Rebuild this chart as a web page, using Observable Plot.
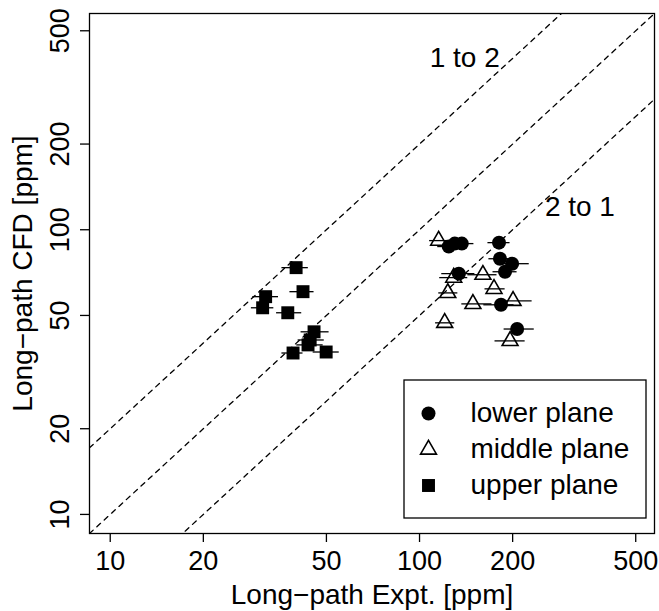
<!DOCTYPE html>
<html>
<head>
<meta charset="utf-8">
<script src="https://cdn.jsdelivr.net/npm/d3@7"></script>
<script src="https://cdn.jsdelivr.net/npm/@observablehq/plot@0.6"></script>
<style>
  html, body { margin: 0; padding: 0; background: white; }
  #chart { width: 659px; height: 611px; }
</style>
</head>
<body>
<div id="chart"></div>
<script>
// ---- data (ppm) ----
const axisDomain = [8.57, 575];
const tickValues = [10, 20, 50, 100, 200, 500];

const lowerX  = [124.3, 130.0, 137.0, 180.7, 182.0, 199.2, 189.0, 134.0, 183.4, 206.8];
const lowerY  = [87.3, 89.4, 89.4, 90.1, 79.1, 76.0, 71.2, 70.1, 54.5, 44.8];
const lowerLo = [114.5, 119.7, 126.2, 166.4, 167.6, 180.8, 172.8, 118.0, 161.4, 187.7];
const lowerHi = [135.0, 142.2, 149.9, 196.2, 197.6, 226.3, 206.7, 151.0, 202.1, 234.9];

const middleX  = [115.3, 129.0, 160.3, 123.4, 174.1, 148.8, 200.6, 120.6, 196.2];
const middleY  = [91.6, 67.9, 69.5, 60.0, 62.0, 54.9, 56.3, 47.1, 40.7];
const middleLo = [107.8, 116.2, 143.3, 115.4, 162.8, 137.0, 182.0, 112.7, 175.4];
const middleHi = [123.3, 143.2, 178.0, 133.0, 189.1, 171.5, 231.2, 130.0, 219.5];

const upperX  = [39.9, 42.0, 31.8, 31.1, 37.5, 45.6, 44.3, 43.6, 39.0, 49.9];
const upperY  = [73.6, 60.6, 58.2, 53.2, 51.1, 43.8, 41.0, 39.4, 36.9, 37.2];
const upperLo = [35.9, 38.1, 28.9, 28.6, 34.5, 41.4, 40.5, 40.1, 35.9, 45.3];
const upperHi = [43.7, 45.6, 35.0, 33.8, 41.6, 51.0, 49.2, 48.8, 42.0, 55.0];

const ratios = [2, 1, 0.5];
const ratioLabels = ["1 to 2", "2 to 1"];
const ratioLabelX = [140, 330];
const ratioLabelY = [400, 120];

const legendNames = ["lower plane", "middle plane", "upper plane"];

// ---- build tables ----
const toRows = (xs, ys, lo, hi) => xs.map((x, i) => ({x, y: ys[i], lo: lo[i], hi: hi[i]}));
const lower = toRows(lowerX, lowerY, lowerLo, lowerHi);
const middle = toRows(middleX, middleY, middleLo, middleHi);
const upper = toRows(upperX, upperY, upperLo, upperHi);
const allRows = [...lower, ...middle, ...upper];

const lineRows = ratios.flatMap(r => axisDomain.map(x => ({x, y: r * x, r})));
const textRows = ratioLabels.map((t, i) => ({t, x: ratioLabelX[i], y: ratioLabelY[i]}));

const FONT = "'Liberation Sans', Arial, Helvetica, sans-serif";
const FS = 28;
const TFS = 27;
const lw = 1.3;

// legend geometry relative to frame (frame: left 89, top 13)
const legX = 339, legTextX = 381, legRowY = [400, 436, 472];

const chart = Plot.plot({
  width: 659,
  height: 611,
  marginLeft: 89,
  marginRight: 5,
  marginTop: 13,
  marginBottom: 78,
  style: {fontFamily: FONT, fontSize: FS + "px", background: "white", color: "black"},
  x: {type: "log", domain: axisDomain},
  y: {type: "log", domain: axisDomain},
  marks: [
    Plot.line(lineRows, {x: "x", y: "y", z: "r", stroke: "black", strokeWidth: lw, strokeDasharray: "5,5", clip: true}),
    Plot.text(textRows, {x: "x", y: "y", text: "t", fontSize: FS, fill: "black"}),
    Plot.ruleY(allRows, {y: "y", x1: "lo", x2: "hi", stroke: "black", strokeWidth: lw}),
    Plot.dot(lower, {x: "x", y: "y", symbol: "circle", r: 7, fill: "black", stroke: "none"}),
    Plot.dot(middle, {x: "x", y: "y", symbol: "triangle", r: 5.9, fill: "none", stroke: "black", strokeWidth: 1.6}),
    Plot.dot(upper, {x: "x", y: "y", symbol: "square", r: 7.3, fill: "black", stroke: "none"}),
    Plot.axisX({ticks: tickValues, tickFormat: d => String(d), tickSize: 9, tickPadding: 8, fontSize: TFS, strokeWidth: lw, label: null}),
    Plot.axisX({ticks: [], fontSize: FS, label: "Long\u2212path Expt. [ppm]", labelAnchor: "center", labelArrow: "none", labelOffset: 70}),
    Plot.axisY({ticks: tickValues, tickFormat: d => String(d), tickSize: 9, tickPadding: 12, tickRotate: -90, fontSize: TFS, strokeWidth: lw, label: null}),
    Plot.axisY({ticks: [], fontSize: FS, label: "Long\u2212path CFD [ppm]", labelAnchor: "center", labelArrow: "none", labelOffset: 77}),
    Plot.frame({stroke: "black", strokeWidth: lw}),
    // legend
    Plot.rect([0], {insetLeft: 315, insetRight: 8, insetTop: 367, insetBottom: 15, fill: "white", stroke: "black", strokeWidth: lw}),
    Plot.dot([0], {frameAnchor: "top-left", dx: legX, dy: legRowY[0], symbol: "circle", r: 7, fill: "black"}),
    Plot.dot([0], {frameAnchor: "top-left", dx: legX, dy: legRowY[1], symbol: "triangle", r: 5.9, fill: "none", stroke: "black", strokeWidth: 1.6}),
    Plot.dot([0], {frameAnchor: "top-left", dx: legX, dy: legRowY[2], symbol: "square", r: 7.3, fill: "black"}),
    ...legendNames.map((n, i) => Plot.text([n], {frameAnchor: "top-left", dx: legTextX, dy: legRowY[i], text: d => d, textAnchor: "start", lineAnchor: "middle", fontSize: FS, fill: "black"}))
  ]
});
document.getElementById("chart").appendChild(chart);
</script>
</body>
</html>
